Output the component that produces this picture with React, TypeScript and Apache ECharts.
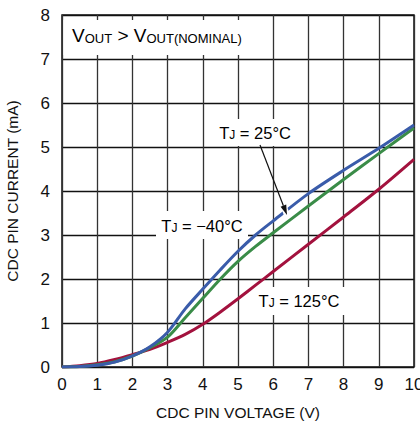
import React, { useEffect, useRef } from "react";
import * as echarts from "echarts";

const voltage = [0, 0.5, 1, 1.5, 2, 2.5, 3, 3.5, 4, 4.5, 5, 5.5, 6, 7, 8, 9, 10];
const current25 = [0, 0.01, 0.04, 0.11, 0.25, 0.46, 0.79, 1.32, 1.77, 2.21, 2.63, 3.0, 3.32, 3.94, 4.47, 4.97, 5.5];
const currentM40 = [0, 0.01, 0.05, 0.12, 0.25, 0.44, 0.68, 1.12, 1.56, 2.0, 2.4, 2.74, 3.05, 3.66, 4.26, 4.85, 5.43];
const current125 = [0, 0.03, 0.08, 0.17, 0.28, 0.4, 0.56, 0.74, 0.97, 1.25, 1.55, 1.86, 2.17, 2.79, 3.41, 4.04, 4.72];

const xTitle = "CDC PIN VOLTAGE (V)";
const yTitle = "CDC PIN CURRENT (mA)";

const FONT = "'Liberation Sans Narrow', 'Liberation Sans', Arial, sans-serif";

const pairs = (ys: number[]) => voltage.map((v, i) => [v, ys[i]]);

export default function App() {
  const ref = useRef<HTMLDivElement>(null);
  useEffect(() => {
    if (!ref.current) return;
    const chart = echarts.init(ref.current, null, { renderer: "svg" });
    const labelRich = {
      m: { fontSize: 16.5, fontFamily: FONT, color: "#111", lineHeight: 20, verticalAlign: "bottom" },
      s: { fontSize: 12, fontFamily: FONT, color: "#111", lineHeight: 8, verticalAlign: "bottom" },
    };
    chart.setOption({
      animation: false,
      backgroundColor: "#fff",
      grid: {
        left: 62, top: 15, width: 352, height: 352, containLabel: false, outerBoundsMode: "none",
        show: true, borderColor: "#111", borderWidth: 1.5, backgroundColor: "transparent",
      },
      xAxis: {
        type: "value",
        min: 0,
        max: 10,
        interval: 1,
        name: xTitle,
        nameLocation: "middle",
        nameGap: 37,
        nameTextStyle: { fontSize: 15.5, fontFamily: FONT, color: "#111" },
        axisLine: { show: false },
        axisTick: { show: false },
        axisLabel: { fontSize: 17, fontFamily: FONT, color: "#111", margin: 9 },
        splitLine: { show: true, lineStyle: { color: "#333", width: 1.3 } },
      },
      yAxis: {
        type: "value",
        min: 0,
        max: 8,
        interval: 1,
        name: yTitle,
        nameLocation: "middle",
        nameGap: 42,
        nameTextStyle: { fontSize: 15.5, fontFamily: FONT, color: "#111" },
        axisLine: { show: false },
        axisTick: { show: false },
        axisLabel: { fontSize: 17, fontFamily: FONT, color: "#111", margin: 12 },
        splitLine: { show: true, lineStyle: { color: "#111", width: 1.3 } },
      },
      series: [
        { name: "TJ = 125°C", type: "line", data: pairs(current125), smooth: 0.3, showSymbol: false, lineStyle: { color: "#a3123e", width: 3 }, z: 3 },
        { name: "TJ = -40°C", type: "line", data: pairs(currentM40), smooth: 0.3, showSymbol: false, lineStyle: { color: "#3a8c48", width: 3 }, z: 4 },
        { name: "TJ = 25°C", type: "line", data: pairs(current25), smooth: 0.3, showSymbol: false, lineStyle: { color: "#3a5caa", width: 3 }, z: 5 },
      ],
      graphic: [
        { type: "rect", z: 1, shape: { x: 63.5, y: 20, width: 207, height: 35 }, style: { fill: "#fff" } },
        {
          type: "text", z: 10, x: 72, y: 45,
          style: {
            text: "{m|V}{s|OUT}{m| > V}{s|OUT(NOMINAL)}",
            textVerticalAlign: "bottom",
            rich: {
              m: { fontSize: 19, fontFamily: FONT, color: "#111", lineHeight: 22, verticalAlign: "bottom" },
              s: { fontSize: 13, fontFamily: FONT, color: "#111", lineHeight: 10, verticalAlign: "bottom" },
            },
          },
        },
        { type: "rect", z: 1, shape: { x: 214, y: 119, width: 82, height: 27 }, style: { fill: "#fff" } },
        { type: "text", z: 10, x: 255, y: 141, style: { text: "{m|T}{s|J}{m| = 25°C}", align: "center", verticalAlign: "bottom", rich: labelRich } },
        { type: "rect", z: 1, shape: { x: 156, y: 211, width: 92, height: 28 }, style: { fill: "#fff" } },
        { type: "text", z: 10, x: 202, y: 234, style: { text: "{m|T}{s|J}{m| = \u221240°C}", align: "center", verticalAlign: "bottom", rich: labelRich } },
        { type: "rect", z: 1, shape: { x: 253, y: 287, width: 92, height: 28 }, style: { fill: "#fff" } },
        { type: "text", z: 10, x: 299, y: 309, style: { text: "{m|T}{s|J}{m| = 125°C}", align: "center", verticalAlign: "bottom", rich: labelRich } },
        { type: "line", z: 9, shape: { x1: 281, y1: 199, x2: 287, y2: 215 }, style: { stroke: "#fff", lineWidth: 6 } },
        { type: "line", z: 10, shape: { x1: 260, y1: 145, x2: 283.4, y2: 205.7 }, style: { stroke: "#111", lineWidth: 1.2 } },
        { type: "polygon", z: 10, shape: { points: [[287, 215], [280.6, 206.8], [286.2, 204.6]] }, style: { fill: "#111" } },
      ],
    });
    return () => chart.dispose();
  }, []);
  return <div ref={ref} style={{ position: "fixed", left: 0, top: 0, width: 420, height: 421 }} />;
}
